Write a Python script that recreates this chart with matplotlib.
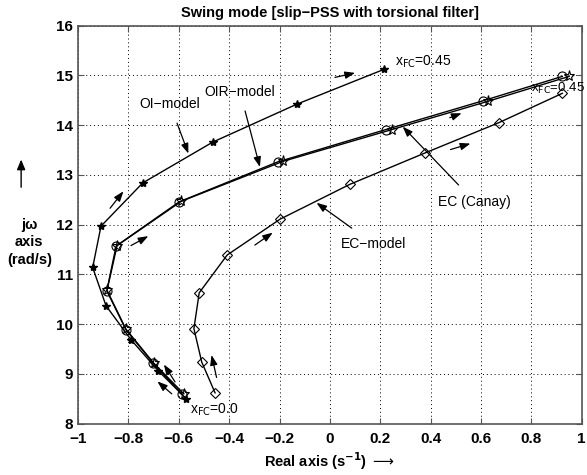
import numpy as np
import matplotlib.pyplot as plt

plt.rcParams['font.family'] = ['Liberation Sans', 'DejaVu Sans']

# OI-model (asterisks)
oi_x = [-0.57, -0.681, -0.79, -0.889, -0.942, -0.909, -0.743, -0.465, -0.132, 0.214]
oi_y = [8.50, 9.06, 9.69, 10.37, 11.14, 11.97, 12.84, 13.66, 14.42, 15.12]

# OIR-model (circles)
oir_x = [-0.586, -0.701, -0.81, -0.886, -0.849, -0.598, -0.208, 0.221, 0.608, 0.923]
oir_y = [8.59, 9.21, 9.89, 10.67, 11.57, 12.46, 13.26, 13.91, 14.49, 14.98]

# EC (Canay) (pentagrams)
can_x = [-0.58, -0.70, -0.81, -0.885, -0.845, -0.59, -0.188, 0.245, 0.628, 0.95]
can_y = [8.60, 9.22, 9.90, 10.68, 11.58, 12.47, 13.27, 13.91, 14.48, 14.98]

# EC-model (diamonds)
ec_x = [-0.456, -0.509, -0.54, -0.519, -0.408, -0.198, 0.079, 0.377, 0.671, 0.923]
ec_y = [8.62, 9.24, 9.91, 10.63, 11.39, 12.11, 12.81, 13.44, 14.05, 14.64]

# direction arrows (tail x, tail y, head x, head y)
dir_arrows = [
    (0.02, 14.96, 0.10, 15.05),
    (-0.873, 12.33, -0.82, 12.67),
    (-0.79, 11.58, -0.721, 11.77),
    (0.476, 14.15, 0.523, 14.24),
    (-0.615, 8.84, -0.659, 9.19),
    (-0.628, 8.60, -0.685, 8.85),
    (-0.45, 8.93, -0.47, 9.38),
    (-0.298, 11.59, -0.227, 11.84),
    (0.479, 13.51, 0.558, 13.63),
]

fig = plt.figure(figsize=(5.87, 4.75), dpi=100)
ax = fig.add_axes([0.133, 0.108, 0.858, 0.838])

ax.plot(oi_x, oi_y, color='k', lw=1, marker='*', ms=6, mfc='k', mec='k')
ax.plot(oir_x, oir_y, color='k', lw=1, marker='o', ms=6.5, mfc='none', mec='k', mew=0.8)
ax.plot(can_x, can_y, color='k', lw=1, marker='*', ms=8, mfc='none', mec='k', mew=0.8)
ax.plot(ec_x, ec_y, color='k', lw=1, marker='D', ms=5.5, mfc='none', mec='k', mew=0.8)

for x0, y0, x1, y1 in dir_arrows:
    ax.annotate('', xy=(x1, y1), xytext=(x0, y0),
                arrowprops=dict(arrowstyle='-|>,head_length=0.6,head_width=0.22', color='k',
                                lw=0.9, mutation_scale=10, shrinkA=0, shrinkB=0))

# labels with pointer arrows
lab = dict(fontsize=10, ha='center', va='center')
ap = dict(arrowstyle='-|>,head_length=0.6,head_width=0.22', color='k', lw=0.9,
          mutation_scale=10, shrinkA=7, shrinkB=0)
ax.annotate('OI\u2212model', xy=(-0.562, 13.43), xytext=(-0.635, 14.42), arrowprops=ap, **lab)
ax.annotate('OIR\u2212model', xy=(-0.278, 13.16), xytext=(-0.357, 14.67), arrowprops=ap, **lab)
ax.annotate('EC (Canay)', xy=(0.289, 13.97), xytext=(0.575, 12.46), arrowprops=ap, **lab)
ax.annotate('EC\u2212model', xy=(-0.053, 12.44), xytext=(0.172, 11.62), arrowprops=ap, **lab)

ax.text(0.258, 15.27, r'x$_{\mathrm{FC}}$=0.45', fontsize=10, ha='left', va='center')
ax.text(0.80, 14.74, r'x$_{\mathrm{FC}}$=0.45', fontsize=9.5, ha='left', va='center', clip_on=False)
ax.text(-0.556, 8.27, r'x$_{\mathrm{FC}}$=0.0', fontsize=10, ha='left', va='center')

ax.set_xlim(-1, 1)
ax.set_ylim(8, 16)
ax.set_xticks(np.arange(-1, 1.01, 0.2))
ax.set_xticklabels(['\u22121', '\u22120.8', '\u22120.6', '\u22120.4', '\u22120.2', '0',
                    '0.2', '0.4', '0.6', '0.8', '1'])
ax.set_yticks(np.arange(8, 16.1, 1))
ax.grid(True, color='k', linestyle=(0, (1, 3)), lw=0.7)
ax.tick_params(direction='in', top=True, right=True, length=4, labelsize=11, color='#555555')
ax.tick_params(axis='x', pad=6)
for lbl in ax.get_xticklabels() + ax.get_yticklabels():
    lbl.set_fontweight('bold')
for s in ax.spines.values():
    s.set_color('#555555')
    s.set_linewidth(1.2)

ax.set_title('Swing mode [slip\u2212PSS with torsional filter]', fontsize=10.5,
             fontweight='bold', pad=6)
fig.text(0.562, 0.03, r'Real axis (s$^{\mathbf{-1}}$) $\longrightarrow$', fontsize=10.5,
         fontweight='bold', ha='center', va='center')
fig.text(0.05, 0.49, 'j\u03c9\naxis\n(rad/s)', fontsize=10.5, fontweight='bold',
         ha='center', va='center', linespacing=1.3)
fig.add_artist(plt.matplotlib.patches.FancyArrowPatch(
    (0.036, 0.60), (0.036, 0.67), transform=fig.transFigure,
    arrowstyle='-|>,head_length=0.6,head_width=0.25', mutation_scale=10, color='k', lw=1))

fig.savefig('out.png', dpi=100)
